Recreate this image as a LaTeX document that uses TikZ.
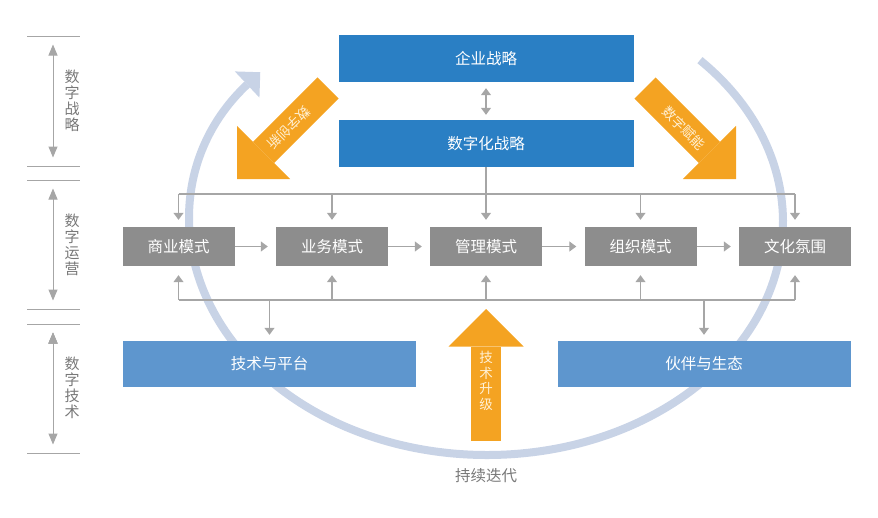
\documentclass[tikz,border=0pt]{standalone}
\usepackage{fontspec}
\setmainfont{Noto Sans CJK SC}
\usepackage{xcolor}
\usetikzlibrary{arrows.meta,positioning}
\definecolor{stratblue}{HTML}{2A7FC4}
\definecolor{techblue}{HTML}{5E96CE}
\definecolor{modegray}{HTML}{8D8D8D}
\definecolor{linegray}{HTML}{A6A6A6}
\definecolor{loopblue}{HTML}{C8D3E6}
\definecolor{boostc}{HTML}{F4A322}
\definecolor{boosttxt}{HTML}{FFF1D6}
\definecolor{labelgray}{HTML}{787878}
\begin{document}
\begin{tikzpicture}[x=1pt,y=-1pt,font=\fontsize{15.5}{18}\selectfont,
	>={Triangle[width=10pt,length=7pt]},
	strat/.style={fill=stratblue,text=white,minimum width=295pt,minimum height=47pt,inner sep=0pt},
	mode/.style={fill=modegray,text=white,minimum width=112pt,minimum height=39pt,inner sep=0pt},
	tech/.style={fill=techblue,text=white,minimum width=293pt,minimum height=46pt,inner sep=0pt},
	conn/.style={draw,color=linegray,line width=1.2pt},
	layer/.style={text=labelgray,align=center,font=\fontsize{15}{16}\selectfont},
	sep/.style={draw,color=linegray,line width=1pt},
	layerarrow/.style={draw,color=linegray,line width=1pt,{Triangle[width=9pt,length=11pt]}-{Triangle[width=9pt,length=11pt]},shorten <=8.5pt,shorten >=8.5pt},
	boost/.style={draw,color=boostc,line width=30pt,-{Triangle[width=75pt,length=37.5pt,line width=0pt]}},
	boosttext/.style={text=boosttxt,font=\fontsize{13.5}{15.5}\selectfont}]
	\useasboundingbox (0,0) rectangle (878,517);

	\coordinate (loopc) at (487,222);
	\draw[color=loopblue,line width=8pt,-{Triangle[width=36pt,length=18pt,line width=0pt]}] (loopc) ++(44:296pt and 233pt) arc[start angle=44,end angle=-220,x radius=296pt,y radius=233pt];

	\node [strat] at (486,58.5) (ent) {企业战略};
	\node [strat] at (486,143.5) (dig) {数字化战略};
	\node [mode] at (178.5,246.5) (biz) {商业模式};
	\node [mode] at (332,246.5) (ops) {业务模式};
	\node [mode] at (486,246.5) (mgt) {管理模式};
	\node [mode] at (640.5,246.5) (org) {组织模式};
	\node [mode] at (795,246.5) (cul) {文化氛围};
	\node [tech] at (269.5,364) (plat) {技术与平台};
	\node [tech] at (704,364) (eco) {伙伴与生态};
	\node [text=labelgray] at (486,476) (iter) {持续迭代};

	\node [layer] at (72,101) (lstrat) {数\\字\\战\\略};
	\node [layer] at (72,245) (lops) {数\\字\\运\\营};
	\node [layer] at (72,388) (ltech) {数\\字\\技\\术};
	\coordinate (s0) at (53,36);
	\coordinate (s1) at (53,166);
	\coordinate (s2) at (53,180);
	\coordinate (s3) at (53,309);
	\coordinate (s4) at (53,324);
	\coordinate (s5) at (53,453);
	\foreach \s in {s0,s1,s2,s3,s4,s5}
		\draw[sep] ([xshift=-26pt]\s) -- ([xshift=27pt]\s);
	\path[layerarrow]
	(s0) edge (s1)
	(s2) edge (s3)
	(s4) edge (s5);

	\draw[conn,<->,shorten <=6pt,shorten >=5pt] (ent) -- (dig);
	\coordinate (tb) at (486,194);
	\coordinate (bb) at (486,300);
	\draw[conn] (dig) -- (tb);
	\draw[conn] (biz |- tb) -- (cul |- tb);
	\draw[conn] (biz |- bb) -- (cul |- bb);
	\foreach \m in {biz,ops,mgt,org,cul} {
		\draw[conn,->,shorten >=7pt] (\m |- tb) -- (\m);
		\draw[conn,->,shorten >=9pt] (\m |- bb) -- (\m);
	}
	\path[conn,->,shorten >=8pt]
	(biz) edge (ops)
	(ops) edge (mgt)
	(mgt) edge (org)
	(org) edge (cul);
	\draw[conn,->,shorten >=6pt] (plat |- bb) -- (plat);
	\draw[conn,->,shorten >=6pt] (eco |- bb) -- (eco);

	\coordinate (upfoot) at (486,441);
	\draw[boost,shorten >=9pt] (upfoot) -- (mgt |- bb);
	\node [boosttext,align=center] at (486,381) (upgrade) {技\\术\\升\\级};
	\coordinate (innofoot) at (328,88);
	\coordinate (innotip) at (237,179);
	\draw[boost] (innofoot) -- (innotip);
	\node [boosttext,rotate=-135] at (289,128) (inno) {数字创新};
	\coordinate (enabfoot) at (645,88);
	\coordinate (enabtip) at (736,179);
	\draw[boost] (enabfoot) -- (enabtip);
	\node [boosttext,rotate=-45] at (684,128) (enab) {数字赋能};
\end{tikzpicture}
\end{document}
